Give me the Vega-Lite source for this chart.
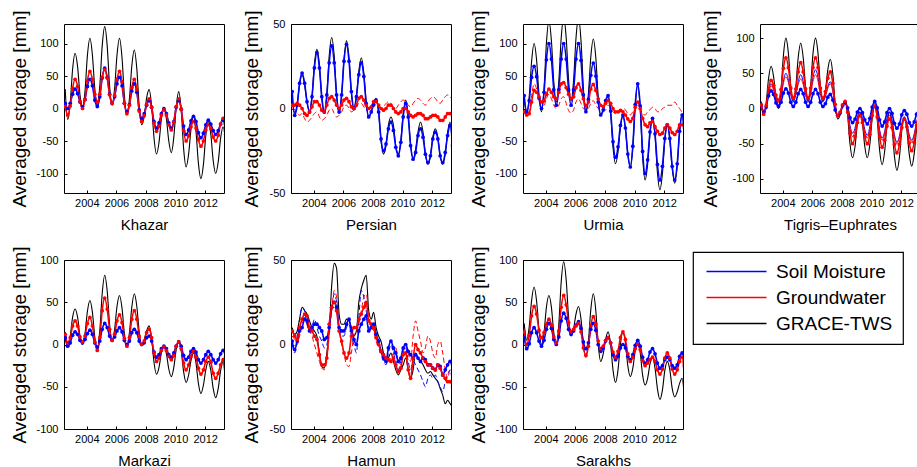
{
"$schema": "https://vega.github.io/schema/vega-lite/v6.json",
"background": "white",
"padding": {"left": 9, "top": 9, "right": 2, "bottom": 2},
"config": {
  "font": "Liberation Sans",
  "view": {"stroke": "black", "strokeWidth": 1},
  "axis": {"grid": false, "domain": false, "tickColor": "black", "tickSize": -3, "tickWidth": 1, "labelColor": "black", "labelFontSize": 11, "labelFont": "Liberation Sans", "titleFont": "Liberation Sans", "titleColor": "black", "titleFontWeight": "normal"},
  "axisX": {"labelPadding": 7, "titlePadding": 9, "titleFontSize": 15},
  "axisY": {"labelPadding": 9, "titleFontSize": 19, "minExtent": 28, "maxExtent": 28},
  "legend": {"orient": "none", "legendX": 629, "legendY": 228, "symbolSize": 100, "symbolStrokeWidth": 1.3, "symbolOffset": 24, "labelOffset": 30, "labelFontSize": 19, "labelFont": "Liberation Sans", "labelColor": "black", "strokeColor": "black", "strokeWidth": 1.2, "fillColor": "white", "padding": 10, "rowPadding": 6}
},
"datasets": {"d": [
{"b":1,"t":2002.54,"g":30,"s":8,"w":3},{"b":1,"t":2002.71,"g":-17,"s":0,"w":-10},{"b":1,"t":2002.88,"g":8,"s":8,"w":4},
{"b":1,"t":2003.04,"g":60,"s":22,"w":31},{"b":1,"t":2003.21,"g":85,"s":30,"w":45},{"b":1,"t":2003.38,"g":64,"s":23,"w":34},{"b":1,"t":2003.54,"g":21,"s":10,"w":11},{"b":1,"t":2003.71,"g":0,"s":3,"w":0},{"b":1,"t":2003.88,"g":27,"s":14,"w":14},
{"b":1,"t":2004.04,"g":81,"s":34,"w":43},{"b":1,"t":2004.21,"g":108,"s":45,"w":57},{"b":1,"t":2004.38,"g":82,"s":35,"w":45},{"b":1,"t":2004.54,"g":31,"s":13,"w":22},{"b":1,"t":2004.71,"g":5,"s":3,"w":10},{"b":1,"t":2004.88,"g":35,"s":18,"w":22},
{"b":1,"t":2005.04,"g":96,"s":47,"w":48},{"b":1,"t":2005.21,"g":126,"s":62,"w":60},{"b":1,"t":2005.38,"g":96,"s":48,"w":47},{"b":1,"t":2005.54,"g":35,"s":22,"w":21},{"b":1,"t":2005.71,"g":5,"s":8,"w":8},{"b":1,"t":2005.88,"g":31,"s":18,"w":20},
{"b":1,"t":2006.04,"g":82,"s":38,"w":45},{"b":1,"t":2006.21,"g":108,"s":48,"w":57},{"b":1,"t":2006.38,"g":78,"s":35,"w":41},{"b":1,"t":2006.54,"g":20,"s":8,"w":8},{"b":1,"t":2006.71,"g":-10,"s":-5,"w":-8},{"b":1,"t":2006.88,"g":15,"s":6,"w":5},
{"b":1,"t":2007.04,"g":65,"s":27,"w":32},{"b":1,"t":2007.21,"g":90,"s":38,"w":45},{"b":1,"t":2007.38,"g":61,"s":25,"w":29},{"b":1,"t":2007.54,"g":4,"s":-2,"w":-4},{"b":1,"t":2007.71,"g":-25,"s":-15,"w":-20},{"b":1,"t":2007.88,"g":-12,"s":-8,"w":-11},
{"b":1,"t":2008.04,"g":16,"s":5,"w":6},{"b":1,"t":2008.21,"g":29,"s":12,"w":15},{"b":1,"t":2008.38,"g":4,"s":2,"w":2},{"b":1,"t":2008.54,"g":-45,"s":-20,"w":-22},{"b":1,"t":2008.71,"g":-70,"s":-30,"w":-35},{"b":1,"t":2008.88,"g":-52,"s":-22,"w":-27},
{"b":1,"t":2009.04,"g":-16,"s":-8,"w":-10},{"b":1,"t":2009.21,"g":2,"s":0,"w":-2},{"b":1,"t":2009.38,"g":-16,"s":-8,"w":-10},{"b":1,"t":2009.54,"g":-50,"s":-22,"w":-25},{"b":1,"t":2009.71,"g":-68,"s":-30,"w":-33},{"b":1,"t":2009.88,"g":-44,"s":-20,"w":-21},
{"b":1,"t":2010.04,"g":2,"s":2,"w":3},{"b":1,"t":2010.21,"g":26,"s":12,"w":15},{"b":1,"t":2010.38,"g":-3,"s":-1,"w":-1},{"b":1,"t":2010.54,"g":-61,"s":-27,"w":-34},{"b":1,"t":2010.71,"g":-90,"s":-40,"w":-50},{"b":1,"t":2010.88,"g":-70,"s":-33,"w":-42},
{"b":1,"t":2011.04,"g":-32,"s":-19,"w":-28},{"b":1,"t":2011.21,"g":-12,"s":-12,"w":-20},{"b":1,"t":2011.38,"g":-36,"s":-20,"w":-30},{"b":1,"t":2011.54,"g":-84,"s":-37,"w":-48},{"b":1,"t":2011.71,"g":-108,"s":-45,"w":-58},{"b":1,"t":2011.88,"g":-86,"s":-38,"w":-50},
{"b":1,"t":2012.04,"g":-42,"s":-25,"w":-33},{"b":1,"t":2012.21,"g":-20,"s":-18,"w":-25},{"b":1,"t":2012.38,"g":-40,"s":-24,"w":-31},{"b":1,"t":2012.54,"g":-80,"s":-34,"w":-44},{"b":1,"t":2012.71,"g":-100,"s":-40,"w":-50},{"b":1,"t":2012.88,"g":-82,"s":-34,"w":-41},
{"b":1,"t":2013.04,"g":-46,"s":-24,"w":-24},{"b":1,"t":2013.21,"g":-28,"s":-18,"w":-15},{"b":1,"t":2013.38,"g":-50,"s":-35,"w":-40},

{"b":2,"t":2002.54,"g":5,"s":10,"w":2},{"b":2,"t":2002.71,"g":-3,"s":-4,"w":2},{"b":2,"t":2002.88,"g":3,"s":2,"w":3},
{"b":2,"t":2003.04,"g":14,"s":15,"w":2},{"b":2,"t":2003.21,"g":20,"s":21,"w":0},{"b":2,"t":2003.38,"g":14,"s":15,"w":-3},{"b":2,"t":2003.54,"g":4,"s":4,"w":-4},{"b":2,"t":2003.71,"g":-2,"s":-2,"w":-2},{"b":2,"t":2003.88,"g":7,"s":7,"w":1},
{"b":2,"t":2004.04,"g":26,"s":24,"w":4},{"b":2,"t":2004.21,"g":35,"s":33,"w":4},{"b":2,"t":2004.38,"g":26,"s":24,"w":2},{"b":2,"t":2004.54,"g":6,"s":7,"w":-1},{"b":2,"t":2004.71,"g":-3,"s":-2,"w":-2},{"b":2,"t":2004.88,"g":8,"s":8,"w":2},
{"b":2,"t":2005.04,"g":31,"s":27,"w":6},{"b":2,"t":2005.21,"g":42,"s":37,"w":7},{"b":2,"t":2005.38,"g":31,"s":27,"w":5},{"b":2,"t":2005.54,"g":8,"s":8,"w":2},{"b":2,"t":2005.71,"g":-3,"s":-2,"w":0},{"b":2,"t":2005.88,"g":8,"s":8,"w":2},
{"b":2,"t":2006.04,"g":29,"s":28,"w":5},{"b":2,"t":2006.21,"g":40,"s":38,"w":6},{"b":2,"t":2006.38,"g":30,"s":28,"w":4},{"b":2,"t":2006.54,"g":9,"s":10,"w":1},{"b":2,"t":2006.71,"g":-1,"s":0,"w":0},{"b":2,"t":2006.88,"g":7,"s":7,"w":2},
{"b":2,"t":2007.04,"g":22,"s":20,"w":6},{"b":2,"t":2007.21,"g":30,"s":27,"w":7},{"b":2,"t":2007.38,"g":21,"s":19,"w":5},{"b":2,"t":2007.54,"g":4,"s":3,"w":2},{"b":2,"t":2007.71,"g":-5,"s":-5,"w":0},{"b":2,"t":2007.88,"g":-2,"s":-2,"w":1},
{"b":2,"t":2008.04,"g":3,"s":2,"w":4},{"b":2,"t":2008.21,"g":6,"s":5,"w":4},{"b":2,"t":2008.38,"g":-2,"s":-2,"w":2},{"b":2,"t":2008.54,"g":-19,"s":-18,"w":0},{"b":2,"t":2008.71,"g":-27,"s":-25,"w":-1},{"b":2,"t":2008.88,"g":-22,"s":-21,"w":0},
{"b":2,"t":2009.04,"g":-10,"s":-12,"w":2},{"b":2,"t":2009.21,"g":-5,"s":-8,"w":2},{"b":2,"t":2009.38,"g":-10,"s":-13,"w":0},{"b":2,"t":2009.54,"g":-22,"s":-23,"w":-2},{"b":2,"t":2009.71,"g":-27,"s":-28,"w":-3},{"b":2,"t":2009.88,"g":-19,"s":-20,"w":-2},
{"b":2,"t":2010.04,"g":-3,"s":-5,"w":0},{"b":2,"t":2010.21,"g":5,"s":3,"w":0},{"b":2,"t":2010.38,"g":-4,"s":-5,"w":-2},{"b":2,"t":2010.54,"g":-21,"s":-22,"w":-4},{"b":2,"t":2010.71,"g":-30,"s":-30,"w":-5},{"b":2,"t":2010.88,"g":-24,"s":-26,"w":-4},
{"b":2,"t":2011.04,"g":-14,"s":-16,"w":-3},{"b":2,"t":2011.21,"g":-8,"s":-12,"w":-3},{"b":2,"t":2011.38,"g":-14,"s":-17,"w":-4},{"b":2,"t":2011.54,"g":-27,"s":-27,"w":-6},{"b":2,"t":2011.71,"g":-33,"s":-32,"w":-6},{"b":2,"t":2011.88,"g":-28,"s":-28,"w":-5},
{"b":2,"t":2012.04,"g":-17,"s":-18,"w":-4},{"b":2,"t":2012.21,"g":-12,"s":-14,"w":-4},{"b":2,"t":2012.38,"g":-17,"s":-18,"w":-5},{"b":2,"t":2012.54,"g":-28,"s":-28,"w":-7},{"b":2,"t":2012.71,"g":-33,"s":-32,"w":-7},{"b":2,"t":2012.88,"g":-27,"s":-26,"w":-5},
{"b":2,"t":2013.04,"g":-14,"s":-16,"w":-3},{"b":2,"t":2013.21,"g":-8,"s":-10,"w":-3},{"b":2,"t":2013.38,"g":-25,"s":-22,"w":-3},

{"b":3,"t":2002.54,"g":15,"s":20,"w":-5},{"b":3,"t":2002.71,"g":-10,"s":-5,"w":-10},{"b":3,"t":2002.88,"g":18,"s":12,"w":-8},
{"b":3,"t":2003.04,"g":72,"s":48,"w":10},{"b":3,"t":2003.21,"g":100,"s":65,"w":28},{"b":3,"t":2003.38,"g":74,"s":49,"w":25},{"b":3,"t":2003.54,"g":21,"s":16,"w":18},{"b":3,"t":2003.71,"g":-5,"s":0,"w":10},{"b":3,"t":2003.88,"g":30,"s":25,"w":12},
{"b":3,"t":2004.04,"g":100,"s":75,"w":22},{"b":3,"t":2004.21,"g":135,"s":100,"w":30},{"b":3,"t":2004.38,"g":104,"s":76,"w":25},{"b":3,"t":2004.54,"g":41,"s":29,"w":18},{"b":3,"t":2004.71,"g":10,"s":5,"w":15},{"b":3,"t":2004.88,"g":42,"s":29,"w":25},
{"b":3,"t":2005.04,"g":108,"s":76,"w":38},{"b":3,"t":2005.21,"g":140,"s":100,"w":40},{"b":3,"t":2005.38,"g":108,"s":76,"w":32},{"b":3,"t":2005.54,"g":44,"s":29,"w":22},{"b":3,"t":2005.71,"g":12,"s":5,"w":15},{"b":3,"t":2005.88,"g":44,"s":29,"w":18},
{"b":3,"t":2006.04,"g":108,"s":76,"w":32},{"b":3,"t":2006.21,"g":140,"s":100,"w":38},{"b":3,"t":2006.38,"g":104,"s":74,"w":28},{"b":3,"t":2006.54,"g":31,"s":21,"w":15},{"b":3,"t":2006.71,"g":-5,"s":-5,"w":5},{"b":3,"t":2006.88,"g":23,"s":14,"w":10},
{"b":3,"t":2007.04,"g":79,"s":51,"w":30},{"b":3,"t":2007.21,"g":107,"s":70,"w":37},{"b":3,"t":2007.38,"g":78,"s":50,"w":28},{"b":3,"t":2007.54,"g":19,"s":10,"w":15},{"b":3,"t":2007.71,"g":-10,"s":-10,"w":5},{"b":3,"t":2007.88,"g":-3,"s":-2,"w":3},
{"b":3,"t":2008.04,"g":11,"s":12,"w":8},{"b":3,"t":2008.21,"g":18,"s":20,"w":12},{"b":3,"t":2008.38,"g":-8,"s":-4,"w":8},{"b":3,"t":2008.54,"g":-59,"s":-51,"w":0},{"b":3,"t":2008.71,"g":-85,"s":-75,"w":-5},{"b":3,"t":2008.88,"g":-67,"s":-59,"w":-5},
{"b":3,"t":2009.04,"g":-30,"s":-26,"w":-3},{"b":3,"t":2009.21,"g":-12,"s":-10,"w":-5},{"b":3,"t":2009.38,"g":-32,"s":-30,"w":-10},{"b":3,"t":2009.54,"g":-70,"s":-70,"w":-16},{"b":3,"t":2009.71,"g":-90,"s":-90,"w":-20},{"b":3,"t":2009.88,"g":-59,"s":-58,"w":-15},
{"b":3,"t":2010.04,"g":4,"s":6,"w":2},{"b":3,"t":2010.21,"g":35,"s":38,"w":10},{"b":3,"t":2010.38,"g":-1,"s":4,"w":0},{"b":3,"t":2010.54,"g":-74,"s":-66,"w":-15},{"b":3,"t":2010.71,"g":-110,"s":-100,"w":-25},{"b":3,"t":2010.88,"g":-86,"s":-79,"w":-28},
{"b":3,"t":2011.04,"g":-39,"s":-36,"w":-22},{"b":3,"t":2011.21,"g":-15,"s":-15,"w":-20},{"b":3,"t":2011.38,"g":-42,"s":-39,"w":-28},{"b":3,"t":2011.54,"g":-98,"s":-86,"w":-35},{"b":3,"t":2011.71,"g":-125,"s":-110,"w":-40},{"b":3,"t":2011.88,"g":-100,"s":-89,"w":-38},
{"b":3,"t":2012.04,"g":-50,"s":-46,"w":-30},{"b":3,"t":2012.21,"g":-25,"s":-25,"w":-25},{"b":3,"t":2012.38,"g":-48,"s":-46,"w":-30},{"b":3,"t":2012.54,"g":-92,"s":-89,"w":-37},{"b":3,"t":2012.71,"g":-115,"s":-110,"w":-40},{"b":3,"t":2012.88,"g":-88,"s":-85,"w":-35},
{"b":3,"t":2013.04,"g":-35,"s":-35,"w":-25},{"b":3,"t":2013.21,"g":-8,"s":-10,"w":-25},{"b":3,"t":2013.38,"g":-50,"s":-55,"w":-30},

{"b":4,"t":2002.54,"g":10,"s":5,"w":5},{"b":4,"t":2002.71,"g":-8,"s":-5,"w":-8},{"b":4,"t":2002.88,"g":9,"s":2,"w":4},
{"b":4,"t":2003.04,"g":43,"s":18,"w":28},{"b":4,"t":2003.21,"g":60,"s":25,"w":40},{"b":4,"t":2003.38,"g":45,"s":20,"w":33},{"b":4,"t":2003.54,"g":15,"s":8,"w":19},{"b":4,"t":2003.71,"g":0,"s":3,"w":12},{"b":4,"t":2003.88,"g":25,"s":9,"w":27},
{"b":4,"t":2004.04,"g":75,"s":22,"w":57},{"b":4,"t":2004.21,"g":100,"s":28,"w":72},{"b":4,"t":2004.38,"g":78,"s":22,"w":58},{"b":4,"t":2004.54,"g":32,"s":9,"w":29},{"b":4,"t":2004.71,"g":10,"s":3,"w":15},{"b":4,"t":2004.88,"g":31,"s":9,"w":28},
{"b":4,"t":2005.04,"g":72,"s":21,"w":52},{"b":4,"t":2005.21,"g":93,"s":27,"w":65},{"b":4,"t":2005.38,"g":72,"s":21,"w":52},{"b":4,"t":2005.54,"g":31,"s":9,"w":28},{"b":4,"t":2005.71,"g":10,"s":3,"w":15},{"b":4,"t":2005.88,"g":32,"s":9,"w":29},
{"b":4,"t":2006.04,"g":78,"s":21,"w":58},{"b":4,"t":2006.21,"g":100,"s":27,"w":72},{"b":4,"t":2006.38,"g":78,"s":21,"w":58},{"b":4,"t":2006.54,"g":32,"s":9,"w":29},{"b":4,"t":2006.71,"g":10,"s":3,"w":15},{"b":4,"t":2006.88,"g":25,"s":7,"w":24},
{"b":4,"t":2007.04,"g":55,"s":16,"w":43},{"b":4,"t":2007.21,"g":70,"s":20,"w":52},{"b":4,"t":2007.38,"g":49,"s":12,"w":36},{"b":4,"t":2007.54,"g":6,"s":-2,"w":6},{"b":4,"t":2007.71,"g":-15,"s":-10,"w":-10},{"b":4,"t":2007.88,"g":-9,"s":-6,"w":-5},
{"b":4,"t":2008.04,"g":4,"s":4,"w":5},{"b":4,"t":2008.21,"g":10,"s":8,"w":10},{"b":4,"t":2008.38,"g":-10,"s":1,"w":-5},{"b":4,"t":2008.54,"g":-50,"s":-13,"w":-35},{"b":4,"t":2008.71,"g":-70,"s":-20,"w":-50},{"b":4,"t":2008.88,"g":-54,"s":-15,"w":-40},
{"b":4,"t":2009.04,"g":-21,"s":-5,"w":-20},{"b":4,"t":2009.21,"g":-5,"s":0,"w":-10},{"b":4,"t":2009.38,"g":-21,"s":-6,"w":-20},{"b":4,"t":2009.54,"g":-54,"s":-16,"w":-40},{"b":4,"t":2009.71,"g":-70,"s":-22,"w":-50},{"b":4,"t":2009.88,"g":-51,"s":-14,"w":-37},
{"b":4,"t":2010.04,"g":-14,"s":2,"w":-10},{"b":4,"t":2010.21,"g":5,"s":10,"w":3},{"b":4,"t":2010.38,"g":-16,"s":1,"w":-12},{"b":4,"t":2010.54,"g":-59,"s":-16,"w":-40},{"b":4,"t":2010.71,"g":-80,"s":-25,"w":-55},{"b":4,"t":2010.88,"g":-61,"s":-19,"w":-45},
{"b":4,"t":2011.04,"g":-24,"s":-6,"w":-25},{"b":4,"t":2011.21,"g":-5,"s":0,"w":-15},{"b":4,"t":2011.38,"g":-26,"s":-7,"w":-27},{"b":4,"t":2011.54,"g":-67,"s":-21,"w":-51},{"b":4,"t":2011.71,"g":-88,"s":-28,"w":-63},{"b":4,"t":2011.88,"g":-69,"s":-22,"w":-51},
{"b":4,"t":2012.04,"g":-31,"s":-9,"w":-27},{"b":4,"t":2012.21,"g":-12,"s":-3,"w":-15},{"b":4,"t":2012.38,"g":-30,"s":-8,"w":-26},{"b":4,"t":2012.54,"g":-64,"s":-20,"w":-49},{"b":4,"t":2012.71,"g":-82,"s":-25,"w":-60},{"b":4,"t":2012.88,"g":-64,"s":-19,"w":-48},
{"b":4,"t":2013.04,"g":-30,"s":-8,"w":-24},{"b":4,"t":2013.21,"g":-12,"s":-2,"w":-12},{"b":4,"t":2013.38,"g":-35,"s":-20,"w":-40},

{"b":5,"t":2002.54,"g":15,"s":8,"w":12},{"b":5,"t":2002.71,"g":0,"s":-2,"w":2},{"b":5,"t":2002.88,"g":10,"s":2,"w":8},
{"b":5,"t":2003.04,"g":32,"s":11,"w":22},{"b":5,"t":2003.21,"g":42,"s":15,"w":28},{"b":5,"t":2003.38,"g":32,"s":12,"w":22},{"b":5,"t":2003.54,"g":10,"s":5,"w":9},{"b":5,"t":2003.71,"g":0,"s":2,"w":3},{"b":5,"t":2003.88,"g":13,"s":6,"w":10},
{"b":5,"t":2004.04,"g":39,"s":13,"w":25},{"b":5,"t":2004.21,"g":52,"s":17,"w":32},{"b":5,"t":2004.38,"g":38,"s":12,"w":22},{"b":5,"t":2004.54,"g":9,"s":2,"w":3},{"b":5,"t":2004.71,"g":-5,"s":-3,"w":-7},{"b":5,"t":2004.88,"g":17,"s":4,"w":8},
{"b":5,"t":2005.04,"g":60,"s":18,"w":40},{"b":5,"t":2005.21,"g":82,"s":25,"w":55},{"b":5,"t":2005.38,"g":63,"s":20,"w":42},{"b":5,"t":2005.54,"g":24,"s":10,"w":18},{"b":5,"t":2005.71,"g":5,"s":5,"w":5},{"b":5,"t":2005.88,"g":18,"s":9,"w":12},
{"b":5,"t":2006.04,"g":45,"s":16,"w":28},{"b":5,"t":2006.21,"g":58,"s":20,"w":35},{"b":5,"t":2006.38,"g":43,"s":15,"w":26},{"b":5,"t":2006.54,"g":13,"s":5,"w":7},{"b":5,"t":2006.71,"g":-2,"s":0,"w":-2},{"b":5,"t":2006.88,"g":14,"s":4,"w":8},
{"b":5,"t":2007.04,"g":44,"s":14,"w":30},{"b":5,"t":2007.21,"g":60,"s":18,"w":40},{"b":5,"t":2007.38,"g":45,"s":14,"w":30},{"b":5,"t":2007.54,"g":15,"s":4,"w":10},{"b":5,"t":2007.71,"g":0,"s":0,"w":0},{"b":5,"t":2007.88,"g":6,"s":2,"w":4},
{"b":5,"t":2008.04,"g":16,"s":8,"w":14},{"b":5,"t":2008.21,"g":22,"s":10,"w":18},{"b":5,"t":2008.38,"g":8,"s":4,"w":8},{"b":5,"t":2008.54,"g":-21,"s":-9,"w":-10},{"b":5,"t":2008.71,"g":-35,"s":-15,"w":-20},{"b":5,"t":2008.88,"g":-27,"s":-12,"w":-16},
{"b":5,"t":2009.04,"g":-10,"s":-5,"w":-7},{"b":5,"t":2009.21,"g":-2,"s":-2,"w":-3},{"b":5,"t":2009.38,"g":-11,"s":-5,"w":-7},{"b":5,"t":2009.54,"g":-29,"s":-12,"w":-14},{"b":5,"t":2009.71,"g":-38,"s":-15,"w":-18},{"b":5,"t":2009.88,"g":-27,"s":-10,"w":-13},
{"b":5,"t":2010.04,"g":-6,"s":-2,"w":-2},{"b":5,"t":2010.21,"g":5,"s":3,"w":3},{"b":5,"t":2010.38,"g":-8,"s":-2,"w":-5},{"b":5,"t":2010.54,"g":-32,"s":-13,"w":-22},{"b":5,"t":2010.71,"g":-45,"s":-18,"w":-30},{"b":5,"t":2010.88,"g":-36,"s":-15,"w":-24},
{"b":5,"t":2011.04,"g":-19,"s":-8,"w":-14},{"b":5,"t":2011.21,"g":-10,"s":-5,"w":-8},{"b":5,"t":2011.38,"g":-22,"s":-9,"w":-15},{"b":5,"t":2011.54,"g":-46,"s":-18,"w":-28},{"b":5,"t":2011.71,"g":-58,"s":-22,"w":-35},{"b":5,"t":2011.88,"g":-48,"s":-18,"w":-30},
{"b":5,"t":2012.04,"g":-30,"s":-12,"w":-20},{"b":5,"t":2012.21,"g":-20,"s":-8,"w":-15},{"b":5,"t":2012.38,"g":-31,"s":-12,"w":-21},{"b":5,"t":2012.54,"g":-52,"s":-18,"w":-34},{"b":5,"t":2012.71,"g":-63,"s":-22,"w":-40},{"b":5,"t":2012.88,"g":-52,"s":-18,"w":-34},
{"b":5,"t":2013.04,"g":-31,"s":-11,"w":-24},{"b":5,"t":2013.21,"g":-20,"s":-7,"w":-18},{"b":5,"t":2013.38,"g":-50,"s":-15,"w":-40},

{"b":6,"t":2002.54,"g":10,"s":2,"w":8},{"b":6,"t":2002.71,"g":6,"s":-3,"w":5},{"b":6,"t":2002.88,"g":8,"s":2,"w":3},
{"b":6,"t":2003.04,"g":15,"s":8,"w":10},{"b":6,"t":2003.21,"g":22,"s":10,"w":15},{"b":6,"t":2003.38,"g":20,"s":15,"w":18},{"b":6,"t":2003.54,"g":18,"s":14,"w":17},{"b":6,"t":2003.71,"g":14,"s":8,"w":10},{"b":6,"t":2003.88,"g":10,"s":10,"w":8},
{"b":6,"t":2004.04,"g":8,"s":12,"w":5},{"b":6,"t":2004.21,"g":5,"s":12,"w":3},{"b":6,"t":2004.38,"g":-5,"s":10,"w":-6},{"b":6,"t":2004.54,"g":-13,"s":8,"w":-12},{"b":6,"t":2004.71,"g":-14,"s":3,"w":-12},{"b":6,"t":2004.88,"g":-5,"s":4,"w":-8},
{"b":6,"t":2005.04,"g":8,"s":10,"w":12},{"b":6,"t":2005.21,"g":35,"s":22,"w":22},{"b":6,"t":2005.38,"g":48,"s":25,"w":25},{"b":6,"t":2005.54,"g":45,"s":22,"w":20},{"b":6,"t":2005.71,"g":18,"s":10,"w":8},{"b":6,"t":2005.88,"g":12,"s":8,"w":2},
{"b":6,"t":2006.04,"g":12,"s":8,"w":-5},{"b":6,"t":2006.21,"g":15,"s":12,"w":-8},{"b":6,"t":2006.38,"g":14,"s":15,"w":-5},{"b":6,"t":2006.54,"g":10,"s":8,"w":5},{"b":6,"t":2006.71,"g":5,"s":3,"w":10},{"b":6,"t":2006.88,"g":8,"s":0,"w":10},
{"b":6,"t":2007.04,"g":25,"s":8,"w":15},{"b":6,"t":2007.21,"g":33,"s":12,"w":18},{"b":6,"t":2007.38,"g":38,"s":15,"w":22},{"b":6,"t":2007.54,"g":41,"s":17,"w":25},{"b":6,"t":2007.71,"g":20,"s":8,"w":14},{"b":6,"t":2007.88,"g":15,"s":10,"w":12},
{"b":6,"t":2008.04,"g":19,"s":12,"w":10},{"b":6,"t":2008.21,"g":10,"s":6,"w":4},{"b":6,"t":2008.38,"g":5,"s":2,"w":0},{"b":6,"t":2008.54,"g":2,"s":-4,"w":-4},{"b":6,"t":2008.71,"g":-5,"s":-8,"w":-6},{"b":6,"t":2008.88,"g":-10,"s":-10,"w":-8},
{"b":6,"t":2009.04,"g":-8,"s":-2,"w":-9},{"b":6,"t":2009.21,"g":-5,"s":2,"w":-10},{"b":6,"t":2009.38,"g":-10,"s":-2,"w":-8},{"b":6,"t":2009.54,"g":-15,"s":-5,"w":-12},{"b":6,"t":2009.71,"g":-18,"s":-10,"w":-16},{"b":6,"t":2009.88,"g":-15,"s":-8,"w":-14},
{"b":6,"t":2010.04,"g":-12,"s":-2,"w":-6},{"b":6,"t":2010.21,"g":-8,"s":0,"w":-5},{"b":6,"t":2010.38,"g":-15,"s":-4,"w":-15},{"b":6,"t":2010.54,"g":-20,"s":-6,"w":-20},{"b":6,"t":2010.71,"g":-15,"s":-8,"w":-8},{"b":6,"t":2010.88,"g":-5,"s":-6,"w":0},
{"b":6,"t":2011.04,"g":-8,"s":-8,"w":-3},{"b":6,"t":2011.21,"g":-10,"s":-10,"w":-5},{"b":6,"t":2011.38,"g":-12,"s":-8,"w":-8},{"b":6,"t":2011.54,"g":-15,"s":-9,"w":-10},{"b":6,"t":2011.71,"g":-17,"s":-12,"w":-12},{"b":6,"t":2011.88,"g":-16,"s":-12,"w":-12},
{"b":6,"t":2012.04,"g":-18,"s":-14,"w":-14},{"b":6,"t":2012.21,"g":-20,"s":-15,"w":-15},{"b":6,"t":2012.38,"g":-22,"s":-12,"w":-12},{"b":6,"t":2012.54,"g":-26,"s":-13,"w":-14},{"b":6,"t":2012.71,"g":-30,"s":-18,"w":-18},{"b":6,"t":2012.88,"g":-35,"s":-15,"w":-20},
{"b":6,"t":2013.04,"g":-33,"s":-12,"w":-22},{"b":6,"t":2013.21,"g":-35,"s":-10,"w":-22},{"b":6,"t":2013.38,"g":-37,"s":-15,"w":-25},

{"b":7,"t":2002.54,"g":25,"s":8,"w":15},{"b":7,"t":2002.71,"g":5,"s":-5,"w":0},{"b":7,"t":2002.88,"g":21,"s":1,"w":11},
{"b":7,"t":2003.04,"g":52,"s":14,"w":34},{"b":7,"t":2003.21,"g":68,"s":20,"w":45},{"b":7,"t":2003.38,"g":51,"s":14,"w":36},{"b":7,"t":2003.54,"g":17,"s":4,"w":17},{"b":7,"t":2003.71,"g":0,"s":-2,"w":8},{"b":7,"t":2003.88,"g":14,"s":5,"w":14},
{"b":7,"t":2004.04,"g":44,"s":18,"w":24},{"b":7,"t":2004.21,"g":58,"s":25,"w":30},{"b":7,"t":2004.38,"g":44,"s":19,"w":23},{"b":7,"t":2004.54,"g":14,"s":6,"w":9},{"b":7,"t":2004.71,"g":0,"s":0,"w":2},{"b":7,"t":2004.88,"g":24,"s":9,"w":16},
{"b":7,"t":2005.04,"g":74,"s":28,"w":44},{"b":7,"t":2005.21,"g":98,"s":37,"w":58},{"b":7,"t":2005.38,"g":76,"s":31,"w":47},{"b":7,"t":2005.54,"g":32,"s":18,"w":26},{"b":7,"t":2005.71,"g":10,"s":12,"w":15},{"b":7,"t":2005.88,"g":19,"s":16,"w":18},
{"b":7,"t":2006.04,"g":36,"s":23,"w":22},{"b":7,"t":2006.21,"g":45,"s":27,"w":25},{"b":7,"t":2006.38,"g":30,"s":19,"w":15},{"b":7,"t":2006.54,"g":0,"s":3,"w":-4},{"b":7,"t":2006.71,"g":-15,"s":-5,"w":-13},{"b":7,"t":2006.88,"g":4,"s":2,"w":-2},
{"b":7,"t":2007.04,"g":41,"s":18,"w":22},{"b":7,"t":2007.21,"g":60,"s":25,"w":33},{"b":7,"t":2007.38,"g":40,"s":17,"w":24},{"b":7,"t":2007.54,"g":0,"s":0,"w":4},{"b":7,"t":2007.71,"g":-20,"s":-8,"w":-5},{"b":7,"t":2007.88,"g":-11,"s":-4,"w":-2},
{"b":7,"t":2008.04,"g":6,"s":4,"w":5},{"b":7,"t":2008.21,"g":15,"s":8,"w":8},{"b":7,"t":2008.38,"g":0,"s":2,"w":2},{"b":7,"t":2008.54,"g":-30,"s":-12,"w":-9},{"b":7,"t":2008.71,"g":-45,"s":-18,"w":-15},{"b":7,"t":2008.88,"g":-30,"s":-14,"w":-8},
{"b":7,"t":2009.04,"g":0,"s":-4,"w":8},{"b":7,"t":2009.21,"g":15,"s":0,"w":15},{"b":7,"t":2009.38,"g":2,"s":-4,"w":6},{"b":7,"t":2009.54,"g":-25,"s":-14,"w":-11},{"b":7,"t":2009.71,"g":-38,"s":-18,"w":-20},{"b":7,"t":2009.88,"g":-28,"s":-12,"w":-15},
{"b":7,"t":2010.04,"g":-8,"s":-1,"w":-5},{"b":7,"t":2010.21,"g":2,"s":5,"w":0},{"b":7,"t":2010.38,"g":-10,"s":-2,"w":-6},{"b":7,"t":2010.54,"g":-36,"s":-15,"w":-19},{"b":7,"t":2010.71,"g":-48,"s":-22,"w":-25},{"b":7,"t":2010.88,"g":-40,"s":-18,"w":-22},
{"b":7,"t":2011.04,"g":-23,"s":-9,"w":-18},{"b":7,"t":2011.21,"g":-15,"s":-5,"w":-15},{"b":7,"t":2011.38,"g":-28,"s":-11,"w":-20},{"b":7,"t":2011.54,"g":-52,"s":-22,"w":-30},{"b":7,"t":2011.71,"g":-65,"s":-28,"w":-35},{"b":7,"t":2011.88,"g":-54,"s":-25,"w":-29},
{"b":7,"t":2012.04,"g":-31,"s":-18,"w":-16},{"b":7,"t":2012.21,"g":-20,"s":-15,"w":-10},{"b":7,"t":2012.38,"g":-30,"s":-18,"w":-16},{"b":7,"t":2012.54,"g":-52,"s":-25,"w":-29},{"b":7,"t":2012.71,"g":-62,"s":-28,"w":-35},{"b":7,"t":2012.88,"g":-56,"s":-24,"w":-30},
{"b":7,"t":2013.04,"g":-46,"s":-14,"w":-20},{"b":7,"t":2013.21,"g":-40,"s":-10,"w":-15},{"b":7,"t":2013.38,"g":-68,"s":-25,"w":-45},

{"b":2,"t":2002.54,"r2":0},{"b":2,"t":2002.71,"r2":-2},{"b":2,"t":2002.88,"r2":-3},
{"b":2,"t":2003.04,"r2":-4},{"b":2,"t":2003.21,"r2":-3},{"b":2,"t":2003.38,"r2":-6},{"b":2,"t":2003.54,"r2":-8},{"b":2,"t":2003.71,"r2":-7},{"b":2,"t":2003.88,"r2":-5},
{"b":2,"t":2004.04,"r2":-3},{"b":2,"t":2004.21,"r2":-2},{"b":2,"t":2004.38,"r2":-5},{"b":2,"t":2004.54,"r2":-7},{"b":2,"t":2004.71,"r2":-6},{"b":2,"t":2004.88,"r2":-4},
{"b":2,"t":2005.04,"r2":-1},{"b":2,"t":2005.21,"r2":0},{"b":2,"t":2005.38,"r2":-3},{"b":2,"t":2005.54,"r2":-5},{"b":2,"t":2005.71,"r2":-4},{"b":2,"t":2005.88,"r2":-2},
{"b":2,"t":2006.04,"r2":1},{"b":2,"t":2006.21,"r2":2},{"b":2,"t":2006.38,"r2":0},{"b":2,"t":2006.54,"r2":-2},{"b":2,"t":2006.71,"r2":-1},{"b":2,"t":2006.88,"r2":1},
{"b":2,"t":2007.04,"r2":3},{"b":2,"t":2007.21,"r2":3},{"b":2,"t":2007.38,"r2":1},{"b":2,"t":2007.54,"r2":-1},{"b":2,"t":2007.71,"r2":0},{"b":2,"t":2007.88,"r2":2},
{"b":2,"t":2008.04,"r2":3},{"b":2,"t":2008.21,"r2":2},{"b":2,"t":2008.38,"r2":1},{"b":2,"t":2008.54,"r2":0},{"b":2,"t":2008.71,"r2":1},{"b":2,"t":2008.88,"r2":3},
{"b":2,"t":2009.04,"r2":4},{"b":2,"t":2009.21,"r2":3},{"b":2,"t":2009.38,"r2":1},{"b":2,"t":2009.54,"r2":0},{"b":2,"t":2009.71,"r2":2},{"b":2,"t":2009.88,"r2":4},
{"b":2,"t":2010.04,"r2":5},{"b":2,"t":2010.21,"r2":4},{"b":2,"t":2010.38,"r2":2},{"b":2,"t":2010.54,"r2":1},{"b":2,"t":2010.71,"r2":3},{"b":2,"t":2010.88,"r2":5},
{"b":2,"t":2011.04,"r2":6},{"b":2,"t":2011.21,"r2":5},{"b":2,"t":2011.38,"r2":3},{"b":2,"t":2011.54,"r2":2},{"b":2,"t":2011.71,"r2":4},{"b":2,"t":2011.88,"r2":6},
{"b":2,"t":2012.04,"r2":7},{"b":2,"t":2012.21,"r2":6},{"b":2,"t":2012.38,"r2":4},{"b":2,"t":2012.54,"r2":3},{"b":2,"t":2012.71,"r2":5},{"b":2,"t":2012.88,"r2":7},
{"b":2,"t":2013.04,"r2":8},{"b":2,"t":2013.21,"r2":7},{"b":2,"t":2013.38,"r2":5},

{"b":3,"t":2002.54,"r2":-5},{"b":3,"t":2002.71,"r2":-12},{"b":3,"t":2002.88,"r2":-5},
{"b":3,"t":2003.04,"r2":20},{"b":3,"t":2003.21,"r2":38},{"b":3,"t":2003.38,"r2":30},{"b":3,"t":2003.54,"r2":15},{"b":3,"t":2003.71,"r2":5},{"b":3,"t":2003.88,"r2":5},
{"b":3,"t":2004.04,"r2":15},{"b":3,"t":2004.21,"r2":22},{"b":3,"t":2004.38,"r2":15},{"b":3,"t":2004.54,"r2":5},{"b":3,"t":2004.71,"r2":0},{"b":3,"t":2004.88,"r2":5},
{"b":3,"t":2005.04,"r2":15},{"b":3,"t":2005.21,"r2":18},{"b":3,"t":2005.38,"r2":8},{"b":3,"t":2005.54,"r2":-3},{"b":3,"t":2005.71,"r2":-7},{"b":3,"t":2005.88,"r2":-2},
{"b":3,"t":2006.04,"r2":10},{"b":3,"t":2006.21,"r2":15},{"b":3,"t":2006.38,"r2":8},{"b":3,"t":2006.54,"r2":0},{"b":3,"t":2006.71,"r2":-3},{"b":3,"t":2006.88,"r2":0},
{"b":3,"t":2007.04,"r2":8},{"b":3,"t":2007.21,"r2":12},{"b":3,"t":2007.38,"r2":5},{"b":3,"t":2007.54,"r2":0},{"b":3,"t":2007.71,"r2":-3},{"b":3,"t":2007.88,"r2":-5},
{"b":3,"t":2008.04,"r2":-2},{"b":3,"t":2008.21,"r2":5},{"b":3,"t":2008.38,"r2":2},{"b":3,"t":2008.54,"r2":-5},{"b":3,"t":2008.71,"r2":-8},{"b":3,"t":2008.88,"r2":-8},
{"b":3,"t":2009.04,"r2":-5},{"b":3,"t":2009.21,"r2":0},{"b":3,"t":2009.38,"r2":-2},{"b":3,"t":2009.54,"r2":-8},{"b":3,"t":2009.71,"r2":-10},{"b":3,"t":2009.88,"r2":-5},
{"b":3,"t":2010.04,"r2":0},{"b":3,"t":2010.21,"r2":5},{"b":3,"t":2010.38,"r2":0},{"b":3,"t":2010.54,"r2":-8},{"b":3,"t":2010.71,"r2":-10},{"b":3,"t":2010.88,"r2":-5},
{"b":3,"t":2011.04,"r2":-2},{"b":3,"t":2011.21,"r2":2},{"b":3,"t":2011.38,"r2":0},{"b":3,"t":2011.54,"r2":-5},{"b":3,"t":2011.71,"r2":-5},{"b":3,"t":2011.88,"r2":0},
{"b":3,"t":2012.04,"r2":2},{"b":3,"t":2012.21,"r2":5},{"b":3,"t":2012.38,"r2":5},{"b":3,"t":2012.54,"r2":5},{"b":3,"t":2012.71,"r2":10},{"b":3,"t":2012.88,"r2":5},
{"b":3,"t":2013.04,"r2":0},{"b":3,"t":2013.21,"r2":-5},{"b":3,"t":2013.38,"r2":-5},

{"b":4,"t":2002.54,"r2":5,"b2":5},{"b":4,"t":2002.71,"r2":-8,"b2":-8},{"b":4,"t":2002.88,"r2":2,"b2":3},
{"b":4,"t":2003.04,"r2":22,"b2":24},{"b":4,"t":2003.21,"r2":32,"b2":35},{"b":4,"t":2003.38,"r2":26,"b2":28},{"b":4,"t":2003.54,"r2":14,"b2":12},{"b":4,"t":2003.71,"r2":8,"b2":5},{"b":4,"t":2003.88,"r2":17,"b2":16},
{"b":4,"t":2004.04,"r2":36,"b2":39},{"b":4,"t":2004.21,"r2":45,"b2":50},{"b":4,"t":2004.38,"r2":37,"b2":40},{"b":4,"t":2004.54,"r2":20,"b2":20},{"b":4,"t":2004.71,"r2":12,"b2":10},{"b":4,"t":2004.88,"r2":20,"b2":20},
{"b":4,"t":2005.04,"r2":34,"b2":38},{"b":4,"t":2005.21,"r2":42,"b2":48},{"b":4,"t":2005.38,"r2":34,"b2":38},{"b":4,"t":2005.54,"r2":20,"b2":20},{"b":4,"t":2005.71,"r2":12,"b2":10},{"b":4,"t":2005.88,"r2":21,"b2":21},
{"b":4,"t":2006.04,"r2":39,"b2":44},{"b":4,"t":2006.21,"r2":48,"b2":55},{"b":4,"t":2006.38,"r2":39,"b2":44},{"b":4,"t":2006.54,"r2":21,"b2":21},{"b":4,"t":2006.71,"r2":12,"b2":10},{"b":4,"t":2006.88,"r2":18,"b2":17},
{"b":4,"t":2007.04,"r2":29,"b2":31},{"b":4,"t":2007.21,"r2":35,"b2":38},{"b":4,"t":2007.38,"r2":24,"b2":26},{"b":4,"t":2007.54,"r2":1,"b2":0},{"b":4,"t":2007.71,"r2":-10,"b2":-12},{"b":4,"t":2007.88,"r2":-6,"b2":-7},
{"b":4,"t":2008.04,"r2":4,"b2":3},{"b":4,"t":2008.21,"r2":8,"b2":8},{"b":4,"t":2008.38,"r2":-4,"b2":-3},{"b":4,"t":2008.54,"r2":-28,"b2":-24},{"b":4,"t":2008.71,"r2":-40,"b2":-35},{"b":4,"t":2008.88,"r2":-32,"b2":-28},
{"b":4,"t":2009.04,"r2":-16,"b2":-12},{"b":4,"t":2009.21,"r2":-8,"b2":-5},{"b":4,"t":2009.38,"r2":-16,"b2":-13},{"b":4,"t":2009.54,"r2":-34,"b2":-30},{"b":4,"t":2009.71,"r2":-42,"b2":-38},{"b":4,"t":2009.88,"r2":-30,"b2":-26},
{"b":4,"t":2010.04,"r2":-7,"b2":-4},{"b":4,"t":2010.21,"r2":5,"b2":8},{"b":4,"t":2010.38,"r2":-8,"b2":-4},{"b":4,"t":2010.54,"r2":-32,"b2":-30},{"b":4,"t":2010.71,"r2":-45,"b2":-42},{"b":4,"t":2010.88,"r2":-36,"b2":-33},
{"b":4,"t":2011.04,"r2":-19,"b2":-14},{"b":4,"t":2011.21,"r2":-10,"b2":-5},{"b":4,"t":2011.38,"r2":-20,"b2":-16},{"b":4,"t":2011.54,"r2":-40,"b2":-37},{"b":4,"t":2011.71,"r2":-50,"b2":-48},{"b":4,"t":2011.88,"r2":-41,"b2":-39},
{"b":4,"t":2012.04,"r2":-24,"b2":-21},{"b":4,"t":2012.21,"r2":-15,"b2":-12},{"b":4,"t":2012.38,"r2":-23,"b2":-20},{"b":4,"t":2012.54,"r2":-40,"b2":-37},{"b":4,"t":2012.71,"r2":-48,"b2":-45},{"b":4,"t":2012.88,"r2":-39,"b2":-36},
{"b":4,"t":2013.04,"r2":-21,"b2":-19},{"b":4,"t":2013.21,"r2":-12,"b2":-10},{"b":4,"t":2013.38,"r2":-35,"b2":-30},

{"b":6,"t":2002.54,"r2":5,"b2":0},{"b":6,"t":2002.71,"r2":3,"b2":-5},{"b":6,"t":2002.88,"r2":0,"b2":5},
{"b":6,"t":2003.04,"r2":5,"b2":15},{"b":6,"t":2003.21,"r2":12,"b2":22},{"b":6,"t":2003.38,"r2":15,"b2":20},{"b":6,"t":2003.54,"r2":12,"b2":12},{"b":6,"t":2003.71,"r2":8,"b2":8},{"b":6,"t":2003.88,"r2":5,"b2":10},
{"b":6,"t":2004.04,"r2":0,"b2":15},{"b":6,"t":2004.21,"r2":-5,"b2":10},{"b":6,"t":2004.38,"r2":-10,"b2":5},{"b":6,"t":2004.54,"r2":-14,"b2":2},{"b":6,"t":2004.71,"r2":-15,"b2":-2},{"b":6,"t":2004.88,"r2":-10,"b2":0},
{"b":6,"t":2005.04,"r2":5,"b2":10},{"b":6,"t":2005.21,"r2":20,"b2":20},{"b":6,"t":2005.38,"r2":32,"b2":30},{"b":6,"t":2005.54,"r2":28,"b2":25},{"b":6,"t":2005.71,"r2":10,"b2":10},{"b":6,"t":2005.88,"r2":0,"b2":5},
{"b":6,"t":2006.04,"r2":-5,"b2":5},{"b":6,"t":2006.21,"r2":-12,"b2":10},{"b":6,"t":2006.38,"r2":-13,"b2":12},{"b":6,"t":2006.54,"r2":-5,"b2":5},{"b":6,"t":2006.71,"r2":5,"b2":0},{"b":6,"t":2006.88,"r2":8,"b2":-5},
{"b":6,"t":2007.04,"r2":12,"b2":15},{"b":6,"t":2007.21,"r2":20,"b2":32},{"b":6,"t":2007.38,"r2":28,"b2":28},{"b":6,"t":2007.54,"r2":30,"b2":20},{"b":6,"t":2007.71,"r2":18,"b2":10},{"b":6,"t":2007.88,"r2":10,"b2":8},
{"b":6,"t":2008.04,"r2":8,"b2":10},{"b":6,"t":2008.21,"r2":2,"b2":5},{"b":6,"t":2008.38,"r2":-2,"b2":0},{"b":6,"t":2008.54,"r2":-5,"b2":-5},{"b":6,"t":2008.71,"r2":-8,"b2":-10},{"b":6,"t":2008.88,"r2":-8,"b2":-12},
{"b":6,"t":2009.04,"r2":-10,"b2":-5},{"b":6,"t":2009.21,"r2":-8,"b2":0},{"b":6,"t":2009.38,"r2":-5,"b2":-5},{"b":6,"t":2009.54,"r2":-2,"b2":-10},{"b":6,"t":2009.71,"r2":-10,"b2":-15},{"b":6,"t":2009.88,"r2":-12,"b2":-10},
{"b":6,"t":2010.04,"r2":-5,"b2":-5},{"b":6,"t":2010.21,"r2":0,"b2":-2},{"b":6,"t":2010.38,"r2":-5,"b2":-10},{"b":6,"t":2010.54,"r2":-10,"b2":-15},{"b":6,"t":2010.71,"r2":5,"b2":-10},{"b":6,"t":2010.88,"r2":14,"b2":-12},
{"b":6,"t":2011.04,"r2":8,"b2":-15},{"b":6,"t":2011.21,"r2":2,"b2":-18},{"b":6,"t":2011.38,"r2":-5,"b2":-22},{"b":6,"t":2011.54,"r2":-2,"b2":-25},{"b":6,"t":2011.71,"r2":5,"b2":-20},{"b":6,"t":2011.88,"r2":2,"b2":-18},
{"b":6,"t":2012.04,"r2":-5,"b2":-20},{"b":6,"t":2012.21,"r2":-8,"b2":-18},{"b":6,"t":2012.38,"r2":0,"b2":-22},{"b":6,"t":2012.54,"r2":2,"b2":-25},{"b":6,"t":2012.71,"r2":-5,"b2":-28},{"b":6,"t":2012.88,"r2":-15,"b2":-22},
{"b":6,"t":2013.04,"r2":-20,"b2":-18},{"b":6,"t":2013.21,"r2":-15,"b2":-15},{"b":6,"t":2013.38,"r2":-20,"b2":-25}
]},
"spacing": 12,
"vconcat": [
{"spacing": 16, "hconcat": [
{"width":160,"height":169,"data":{"name":"d"},
 "transform":[{"filter":"datum.b == 1"},{"fold":["g","s","w","r2","b2"],"as":["k","v"]},{"filter":"isValid(datum.v)"}],
 "encoding":{
  "x":{"field":"t","type":"quantitative","scale":{"domain":[2002.46,2013.27],"nice":false,"zero":false},"axis":{"values":[2004,2006,2008,2010,2012],"labelExpr":"'' + datum.value","title":"Khazar"}},
  "y":{"field":"v","type":"quantitative","scale":{"domain":[-130,130],"nice":false,"zero":false},"axis":{"values":[-100,-50,0,50,100],"labelExpr":"'' + datum.value","title":"Averaged storage [mm]","titlePadding":7}},
  "color":{"field":"k","type":"nominal","scale":{"domain":["s","w","g"],"range":["#0000ff","#ff0000","#000000"]},"legend":{"title":null,"symbolType":"M-6,0H6","labelExpr":"datum.value == 's' ? 'Soil Moisture' : datum.value == 'w' ? 'Groundwater' : 'GRACE-TWS'"}}
 },
 "layer":[
  {"transform":[{"filter":"datum.k == 'g'"}],"mark":{"type":"line","interpolate":"monotone","clip":true,"strokeWidth":1.1}},
  {"transform":[{"filter":"datum.k == 's' || datum.k == 'w'"}],"mark":{"type":"line","interpolate":"monotone","clip":true,"strokeWidth":1.6}},
  {"transform":[{"filter":"datum.k == 's' || datum.k == 'w'"}],"mark":{"type":"point","filled":true,"opacity":1,"size":14,"clip":true},"encoding":{"color":{"field":"k","type":"nominal","legend":null}}}
 ]},
{"width":160,"height":169,"data":{"name":"d"},
 "transform":[{"filter":"datum.b == 2"},{"fold":["g","s","w","r2","b2"],"as":["k","v"]},{"filter":"isValid(datum.v)"}],
 "encoding":{
  "x":{"field":"t","type":"quantitative","scale":{"domain":[2002.46,2013.27],"nice":false,"zero":false},"axis":{"values":[2004,2006,2008,2010,2012],"labelExpr":"'' + datum.value","title":"Persian"}},
  "y":{"field":"v","type":"quantitative","scale":{"domain":[-50,50],"nice":false,"zero":false},"axis":{"values":[-50,0,50],"labelExpr":"'' + datum.value","title":"Averaged storage [mm]","titlePadding":2}},
  "color":{"field":"k","type":"nominal","scale":{"domain":["s","w","g"],"range":["#0000ff","#ff0000","#000000"]},"legend":{"title":null,"symbolType":"M-6,0H6","labelExpr":"datum.value == 's' ? 'Soil Moisture' : datum.value == 'w' ? 'Groundwater' : 'GRACE-TWS'"}}
 },
 "layer":[
  {"transform":[{"filter":"datum.k == 'g'"}],"mark":{"type":"line","interpolate":"monotone","clip":true,"strokeWidth":1.1}},
  {"transform":[{"filter":"datum.k == 'r2'"}],"mark":{"type":"line","interpolate":"monotone","clip":true,"strokeWidth":1,"strokeDash":[5,3]},"encoding":{"color":{"value":"#ff0000"}}},
  {"transform":[{"filter":"datum.k == 's' || datum.k == 'w'"}],"mark":{"type":"line","interpolate":"monotone","clip":true,"strokeWidth":1.6}},
  {"transform":[{"filter":"datum.k == 's' || datum.k == 'w'"}],"mark":{"type":"point","filled":true,"opacity":1,"size":14,"clip":true},"encoding":{"color":{"field":"k","type":"nominal","legend":null}}}
 ]},
{"width":160,"height":169,"data":{"name":"d"},
 "transform":[{"filter":"datum.b == 3"},{"fold":["g","s","w","r2","b2"],"as":["k","v"]},{"filter":"isValid(datum.v)"}],
 "encoding":{
  "x":{"field":"t","type":"quantitative","scale":{"domain":[2002.46,2013.27],"nice":false,"zero":false},"axis":{"values":[2004,2006,2008,2010,2012],"labelExpr":"'' + datum.value","title":"Urmia"}},
  "y":{"field":"v","type":"quantitative","scale":{"domain":[-130,130],"nice":false,"zero":false},"axis":{"values":[-100,-50,0,50,100],"labelExpr":"'' + datum.value","title":"Averaged storage [mm]","titlePadding":7}},
  "color":{"field":"k","type":"nominal","scale":{"domain":["s","w","g"],"range":["#0000ff","#ff0000","#000000"]},"legend":{"title":null,"symbolType":"M-6,0H6","labelExpr":"datum.value == 's' ? 'Soil Moisture' : datum.value == 'w' ? 'Groundwater' : 'GRACE-TWS'"}}
 },
 "layer":[
  {"transform":[{"filter":"datum.k == 'g'"}],"mark":{"type":"line","interpolate":"monotone","clip":true,"strokeWidth":1.1}},
  {"transform":[{"filter":"datum.k == 'r2'"}],"mark":{"type":"line","interpolate":"monotone","clip":true,"strokeWidth":1,"strokeDash":[5,3]},"encoding":{"color":{"value":"#ff0000"}}},
  {"transform":[{"filter":"datum.k == 's' || datum.k == 'w'"}],"mark":{"type":"line","interpolate":"monotone","clip":true,"strokeWidth":1.6}},
  {"transform":[{"filter":"datum.k == 's' || datum.k == 'w'"}],"mark":{"type":"point","filled":true,"opacity":1,"size":14,"clip":true},"encoding":{"color":{"field":"k","type":"nominal","legend":null}}}
 ]},
{"width":160,"height":169,"data":{"name":"d"},
 "transform":[{"filter":"datum.b == 4"},{"fold":["g","s","w","r2","b2"],"as":["k","v"]},{"filter":"isValid(datum.v)"}],
 "encoding":{
  "x":{"field":"t","type":"quantitative","scale":{"domain":[2002.46,2013.27],"nice":false,"zero":false},"axis":{"values":[2004,2006,2008,2010,2012],"labelExpr":"'' + datum.value","title":"Tigris–Euphrates"}},
  "y":{"field":"v","type":"quantitative","scale":{"domain":[-120,120],"nice":false,"zero":false},"axis":{"values":[-100,-50,0,50,100],"labelExpr":"'' + datum.value","title":"Averaged storage [mm]","titlePadding":12}},
  "color":{"field":"k","type":"nominal","scale":{"domain":["s","w","g"],"range":["#0000ff","#ff0000","#000000"]},"legend":{"title":null,"symbolType":"M-6,0H6","labelExpr":"datum.value == 's' ? 'Soil Moisture' : datum.value == 'w' ? 'Groundwater' : 'GRACE-TWS'"}}
 },
 "layer":[
  {"transform":[{"filter":"datum.k == 'g'"}],"mark":{"type":"line","interpolate":"monotone","clip":true,"strokeWidth":1.1}},
  {"transform":[{"filter":"datum.k == 'b2'"}],"mark":{"type":"line","interpolate":"monotone","clip":true,"strokeWidth":1},"encoding":{"color":{"value":"#0000ff"}}},
  {"transform":[{"filter":"datum.k == 'r2'"}],"mark":{"type":"line","interpolate":"monotone","clip":true,"strokeWidth":1},"encoding":{"color":{"value":"#ff0000"}}},
  {"transform":[{"filter":"datum.k == 's' || datum.k == 'w'"}],"mark":{"type":"line","interpolate":"monotone","clip":true,"strokeWidth":1.6}},
  {"transform":[{"filter":"datum.k == 's' || datum.k == 'w'"}],"mark":{"type":"point","filled":true,"opacity":1,"size":14,"clip":true},"encoding":{"color":{"field":"k","type":"nominal","legend":null}}}
 ]}
]},
{"spacing": 16, "hconcat": [
{"width":160,"height":169,"data":{"name":"d"},
 "transform":[{"filter":"datum.b == 5"},{"fold":["g","s","w","r2","b2"],"as":["k","v"]},{"filter":"isValid(datum.v)"}],
 "encoding":{
  "x":{"field":"t","type":"quantitative","scale":{"domain":[2002.46,2013.27],"nice":false,"zero":false},"axis":{"values":[2004,2006,2008,2010,2012],"labelExpr":"'' + datum.value","title":"Markazi"}},
  "y":{"field":"v","type":"quantitative","scale":{"domain":[-100,100],"nice":false,"zero":false},"axis":{"values":[-100,-50,0,50,100],"labelExpr":"'' + datum.value","title":"Averaged storage [mm]","titlePadding":7}},
  "color":{"field":"k","type":"nominal","scale":{"domain":["s","w","g"],"range":["#0000ff","#ff0000","#000000"]},"legend":{"title":null,"symbolType":"M-6,0H6","labelExpr":"datum.value == 's' ? 'Soil Moisture' : datum.value == 'w' ? 'Groundwater' : 'GRACE-TWS'"}}
 },
 "layer":[
  {"transform":[{"filter":"datum.k == 'g'"}],"mark":{"type":"line","interpolate":"monotone","clip":true,"strokeWidth":1.1}},
  {"transform":[{"filter":"datum.k == 's' || datum.k == 'w'"}],"mark":{"type":"line","interpolate":"monotone","clip":true,"strokeWidth":1.6}},
  {"transform":[{"filter":"datum.k == 's' || datum.k == 'w'"}],"mark":{"type":"point","filled":true,"opacity":1,"size":14,"clip":true},"encoding":{"color":{"field":"k","type":"nominal","legend":null}}}
 ]},
{"width":160,"height":169,"data":{"name":"d"},
 "transform":[{"filter":"datum.b == 6"},{"fold":["g","s","w","r2","b2"],"as":["k","v"]},{"filter":"isValid(datum.v)"}],
 "encoding":{
  "x":{"field":"t","type":"quantitative","scale":{"domain":[2002.46,2013.27],"nice":false,"zero":false},"axis":{"values":[2004,2006,2008,2010,2012],"labelExpr":"'' + datum.value","title":"Hamun"}},
  "y":{"field":"v","type":"quantitative","scale":{"domain":[-50,50],"nice":false,"zero":false},"axis":{"values":[-50,0,50],"labelExpr":"'' + datum.value","title":"Averaged storage [mm]","titlePadding":2}},
  "color":{"field":"k","type":"nominal","scale":{"domain":["s","w","g"],"range":["#0000ff","#ff0000","#000000"]},"legend":{"title":null,"symbolType":"M-6,0H6","labelExpr":"datum.value == 's' ? 'Soil Moisture' : datum.value == 'w' ? 'Groundwater' : 'GRACE-TWS'"}}
 },
 "layer":[
  {"transform":[{"filter":"datum.k == 'g'"}],"mark":{"type":"line","interpolate":"monotone","clip":true,"strokeWidth":1.1}},
  {"transform":[{"filter":"datum.k == 'b2'"}],"mark":{"type":"line","interpolate":"monotone","clip":true,"strokeWidth":1,"strokeDash":[5,3]},"encoding":{"color":{"value":"#0000ff"}}},
  {"transform":[{"filter":"datum.k == 'r2'"}],"mark":{"type":"line","interpolate":"monotone","clip":true,"strokeWidth":1,"strokeDash":[5,3]},"encoding":{"color":{"value":"#ff0000"}}},
  {"transform":[{"filter":"datum.k == 's' || datum.k == 'w'"}],"mark":{"type":"line","interpolate":"monotone","clip":true,"strokeWidth":1.6}},
  {"transform":[{"filter":"datum.k == 's' || datum.k == 'w'"}],"mark":{"type":"point","filled":true,"opacity":1,"size":14,"clip":true},"encoding":{"color":{"field":"k","type":"nominal","legend":null}}}
 ]},
{"width":160,"height":169,"data":{"name":"d"},
 "transform":[{"filter":"datum.b == 7"},{"fold":["g","s","w","r2","b2"],"as":["k","v"]},{"filter":"isValid(datum.v)"}],
 "encoding":{
  "x":{"field":"t","type":"quantitative","scale":{"domain":[2002.46,2013.27],"nice":false,"zero":false},"axis":{"values":[2004,2006,2008,2010,2012],"labelExpr":"'' + datum.value","title":"Sarakhs"}},
  "y":{"field":"v","type":"quantitative","scale":{"domain":[-100,100],"nice":false,"zero":false},"axis":{"values":[-100,-50,0,50,100],"labelExpr":"'' + datum.value","title":"Averaged storage [mm]","titlePadding":7}},
  "color":{"field":"k","type":"nominal","scale":{"domain":["s","w","g"],"range":["#0000ff","#ff0000","#000000"]},"legend":{"title":null,"symbolType":"M-6,0H6","labelExpr":"datum.value == 's' ? 'Soil Moisture' : datum.value == 'w' ? 'Groundwater' : 'GRACE-TWS'"}}
 },
 "layer":[
  {"transform":[{"filter":"datum.k == 'g'"}],"mark":{"type":"line","interpolate":"monotone","clip":true,"strokeWidth":1.1}},
  {"transform":[{"filter":"datum.k == 's' || datum.k == 'w'"}],"mark":{"type":"line","interpolate":"monotone","clip":true,"strokeWidth":1.6}},
  {"transform":[{"filter":"datum.k == 's' || datum.k == 'w'"}],"mark":{"type":"point","filled":true,"opacity":1,"size":14,"clip":true},"encoding":{"color":{"field":"k","type":"nominal","legend":null}}}
 ]}
]}
]
}
